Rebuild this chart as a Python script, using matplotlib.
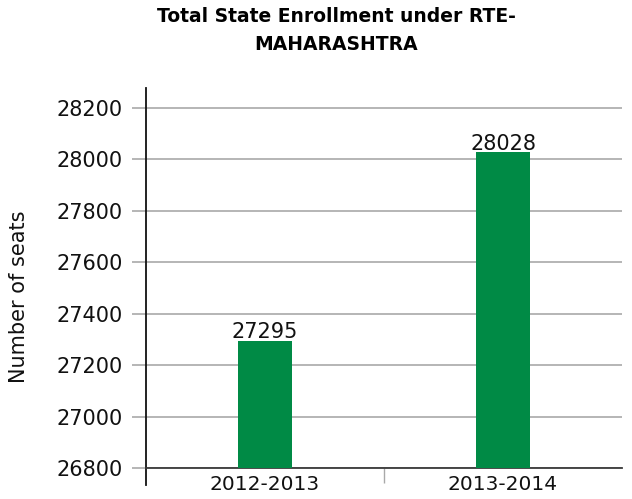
import matplotlib.pyplot as plt
from matplotlib.ticker import FixedLocator

# ── Data ────────────────────────────────────────────────────────────────────
years = ["2012-2013", "2013-2014"]
seats = [27295, 28028]
y_ticks = [26800, 27000, 27200, 27400, 27600, 27800, 28000, 28200]

GREEN = "#008A45"
GRID = "#A9A9A9"
AXIS = "#3A3A3A"
BASE = 26800

plt.rcParams["font.family"] = "DejaVu Sans"

fig = plt.figure(figsize=(6.32, 4.99), dpi=100)
ax = fig.add_axes([146 / 632, 1 - 468 / 499, 476 / 632, 380 / 499])

x = range(len(years))
ax.bar(x, [v - BASE for v in seats], bottom=BASE, width=0.23, color=GREEN, zorder=3)
for xi, v in zip(x, seats):
    ax.annotate(f"{v}", (xi, v), xytext=(0, -1), textcoords="offset points",
                ha="center", va="bottom", fontsize=15, color="#111111")

ax.set_xlim(-0.5, 1.5)
ax.set_ylim(BASE, 28278)
ax.set_yticks(y_ticks)
ax.grid(axis="y", color=GRID, linewidth=1.2, zorder=0)

# spines
for s in ["top", "right"]:
    ax.spines[s].set_visible(False)
ax.spines["left"].set_color("#111111")
ax.spines["left"].set_linewidth(1.3)
ax.spines["bottom"].set_color(AXIS)
ax.spines["bottom"].set_linewidth(1.3)
ax.plot([-0.5, -0.5], [BASE - 66, BASE], color="#111111", lw=1.3, clip_on=False)

# ticks
ax.tick_params(axis="y", length=10, width=1.2, color=GRID, pad=7, labelsize=15,
               labelcolor="#111111")
ax.set_xticks(list(x))
ax.set_xticklabels(years)
ax.xaxis.set_minor_locator(FixedLocator([0.5]))
ax.tick_params(axis="x", which="major", length=0, pad=5, labelsize=14.5,
               labelcolor="#111111")
ax.tick_params(axis="x", which="minor", length=11, width=1, color=GRID)

ax.set_ylabel("Number of seats", fontsize=15, color="#111111")
ax.yaxis.set_label_coords(-0.245, 0.45)

fig.text(336 / 632, 1 - 17 / 499, "Total State Enrollment under RTE-",
         ha="center", va="center", fontsize=13.5, fontweight="bold")
fig.text(336 / 632, 1 - 45 / 499, "MAHARASHTRA",
         ha="center", va="center", fontsize=13.5, fontweight="bold")

fig.savefig("out.png", dpi=100)
